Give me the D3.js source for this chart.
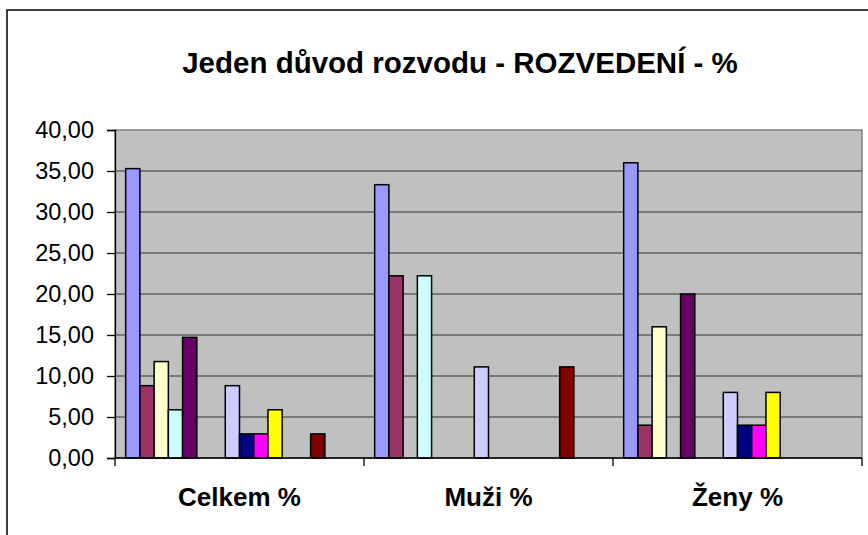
<!DOCTYPE html>
<html>
<head>
<meta charset="utf-8">
<script src="https://cdn.jsdelivr.net/npm/d3@7"></script>
<style>
  body { margin: 0; background: #fff; }
  svg { display: block; font-family: Arial, "Liberation Sans", sans-serif; }
</style>
</head>
<body>
<div id="chart"></div>
<script>
// categories and per-category values (16 series, Excel default palette order)
const categories = ["Celkem %", "Muži %", "Ženy %"];
const celkem = [35.29, 8.82, 11.76, 5.88, 14.71, 0, 0, 8.82, 2.94, 2.94, 5.88, 0, 0, 2.94, 0, 0];
const muzi   = [33.33, 22.22, 0, 22.22, 0, 0, 0, 11.11, 0, 0, 0, 0, 0, 11.11, 0, 0];
const zeny   = [36.00, 4.00, 16.00, 0, 20.00, 0, 0, 8.00, 4.00, 4.00, 8.00, 0, 0, 0, 0, 0];
const seriesColors = ["#9999FF", "#993366", "#FFFFCC", "#CCFFFF", "#660066", "#FF8080", "#0066CC", "#CCCCFF",
                      "#000080", "#FF00FF", "#FFFF00", "#00FFFF", "#800080", "#800000", "#008080", "#0000FF"];
const yTicks = [0, 5, 10, 15, 20, 25, 30, 35, 40];
const title = "Jeden důvod rozvodu - ROZVEDENÍ - %";

const values = [celkem, muzi, zeny];
const seriesIdx = d3.range(seriesColors.length);

const W = 868, H = 535;
const plot = { left: 115, right: 862, top: 130, bottom: 458 };

const svg = d3.select("#chart").append("svg")
    .attr("width", W)
    .attr("height", H);

// outer chart frame (right and bottom edges fall outside the picture)
svg.append("rect")
    .attr("x", 7).attr("y", 10)
    .attr("width", W + 20).attr("height", H + 20)
    .attr("fill", "#fff")
    .attr("stroke", "#000")
    .attr("stroke-width", 1.5);

svg.append("text")
    .attr("x", 460)
    .attr("y", 73)
    .attr("text-anchor", "middle")
    .attr("font-size", 29.5)
    .attr("font-weight", "bold")
    .text(title);

const x = d3.scaleBand()
    .domain(categories)
    .range([plot.left, plot.right])
    .paddingInner(0)
    .paddingOuter(0);

// gap width 150%: 0.75 bar width on each side of a group
const xs = d3.scaleBand()
    .domain(seriesIdx)
    .range([0, x.bandwidth()])
    .paddingInner(0)
    .paddingOuter(0.75);

const y = d3.scaleLinear()
    .domain([0, 40])
    .range([plot.bottom, plot.top]);

// plot area
svg.append("rect")
    .attr("x", plot.left).attr("y", plot.top)
    .attr("width", plot.right - plot.left)
    .attr("height", plot.bottom - plot.top)
    .attr("fill", "#C0C0C0")
    .attr("stroke", "#808080")
    .attr("stroke-width", 1.5);

// gridlines
svg.append("g")
    .selectAll("line")
    .data(yTicks.filter(d => d > 0 && d < 40))
    .join("line")
    .attr("x1", plot.left).attr("x2", plot.right)
    .attr("y1", d => y(d)).attr("y2", d => y(d))
    .attr("stroke", "#333")
    .attr("stroke-width", 1.2);

// bars
const rows = [];
categories.forEach((c, ci) => {
    values[ci].forEach((v, si) => {
        if (v > 0) rows.push({ cat: c, s: si, v: v });
    });
});

svg.append("g")
    .selectAll("rect")
    .data(rows)
    .join("rect")
    .attr("x", d => x(d.cat) + xs(d.s))
    .attr("y", d => y(d.v))
    .attr("width", xs.bandwidth())
    .attr("height", d => y(0) - y(d.v))
    .attr("fill", d => seriesColors[d.s])
    .attr("stroke", "#000")
    .attr("stroke-width", 1.5);

// y axis
const yAxis = d3.axisLeft(y)
    .tickValues(yTicks)
    .tickSize(8)
    .tickPadding(13)
    .tickFormat(d => d3.format(".2f")(d).replace(".", ","));

const yAxisG = svg.append("g")
    .attr("transform", `translate(${plot.left},0)`)
    .call(yAxis);
yAxisG.select(".domain").attr("stroke", "#000").attr("stroke-width", 1.3);
yAxisG.selectAll(".tick line").attr("stroke", "#000").attr("stroke-width", 1.3);
yAxisG.selectAll(".tick text")
    .attr("font-size", 23.5)
    .attr("font-family", "Arial, 'Liberation Sans', sans-serif")
    .attr("fill", "#000");

// x axis
const xAxisG = svg.append("g")
    .attr("transform", `translate(0,${plot.bottom})`);
xAxisG.append("line")
    .attr("x1", plot.left).attr("x2", plot.right)
    .attr("stroke", "#000").attr("stroke-width", 1.3);
xAxisG.selectAll(".sep")
    .data(categories.concat(["end"]))
    .join("line")
    .attr("class", "sep")
    .attr("x1", (d, i) => i < categories.length ? x(d) : plot.right)
    .attr("x2", (d, i) => i < categories.length ? x(d) : plot.right)
    .attr("y1", 0).attr("y2", 8)
    .attr("stroke", "#000").attr("stroke-width", 1.3);
xAxisG.selectAll(".lbl")
    .data(categories)
    .join("text")
    .attr("class", "lbl")
    .attr("x", d => x(d) + x.bandwidth() / 2)
    .attr("y", 48)
    .attr("text-anchor", "middle")
    .attr("font-size", 26)
    .attr("font-weight", "bold")
    .text(d => d);
</script>
</body>
</html>
